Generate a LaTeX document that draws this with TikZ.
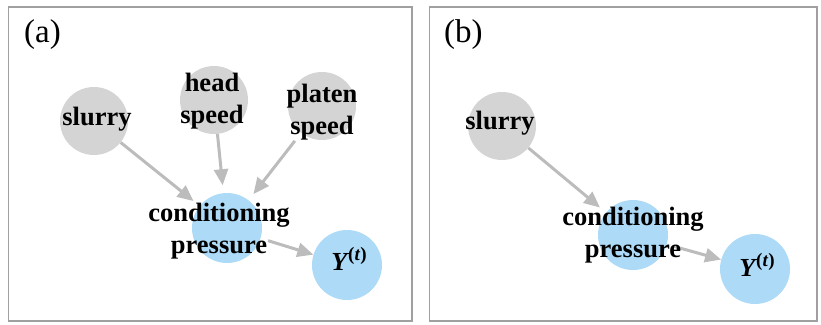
\documentclass[tikz,border=0pt]{standalone}
\usepackage{fontspec}
\setmainfont{Liberation Serif}
\usetikzlibrary{arrows.meta, positioning}

\definecolor{ndgray}{RGB}{212,212,212}
\definecolor{ndblue}{RGB}{172,218,247}
\definecolor{edgray}{RGB}{188,188,188}
\definecolor{frgray}{RGB}{160,160,160}

\newcommand{\ysup}{Y\kern1pt\raisebox{0.4em}{\fontsize{19}{22}\selectfont\upshape(\itshape t\/\upshape)}}

\begin{document}
\begin{tikzpicture}[x=1pt, y=-1pt,
    nd/.style={circle, fill=ndgray, minimum size=68pt, inner sep=0pt},
    ndb/.style={circle, fill=ndblue, minimum size=70pt, inner sep=0pt},
    lbl/.style={font=\fontsize{26.5}{32}\selectfont\bfseries, align=center, inner sep=0pt},
    ylbl/.style={font=\fontsize{26}{30}\selectfont\bfseries\itshape, inner sep=0pt},
    ed/.style={edgray, line width=3pt, -{Triangle[length=16pt, width=14pt]}},
    frm/.style={frgray, line width=1.4pt}]
    \useasboundingbox (0,0) rectangle (821,324);
    % panel frames
    \draw[frm] (8.5,7) rectangle (412,321);
    \draw[frm] (429.5,7) rectangle (817,321);
    \node[font=\fontsize{33}{40}\selectfont, anchor=base west, inner sep=0pt] (ta) at (24,42) {(a)};
    \node[font=\fontsize{33}{40}\selectfont, anchor=base west, inner sep=0pt] (tb) at (444,42) {(b)};
    % (a)
    \node[nd] (sla) at (94,121) {};
    \node[nd] (hda) at (214,100) {};
    \node[nd] (pla) at (322,106) {};
    \node[ndb, outer sep=8pt] (cpa) at (227,228) {};
    \node[ndb] (yta) at (347,265) {};
    % (b)
    \node[nd] (slb) at (502,126) {};
    \node[ndb, outer sep=8pt] (cpb) at (633,235) {};
    \node[ndb] (ytb) at (755,269) {};
    \foreach \i/\j/\s in {sla/cpa/0, hda/cpa/0, pla/cpa/10, cpa/yta/0, slb/cpb/0, cpb/ytb/0} {
        \draw[ed, shorten <=\s pt] (\i)--(\j);
    }
    \node[lbl] at (97,119) {slurry};
    \node[lbl] at (212,101) {head\\speed};
    \node[lbl] at (322,112) {platen\\speed};
    \node[lbl] at (219,231) {conditioning\\pressure};
    \node[ylbl] at (349,259) {\ysup};
    \node[lbl] at (500,123) {slurry};
    \node[lbl] at (633,235) {conditioning\\pressure};
    \node[ylbl] at (757,265) {\ysup};
\end{tikzpicture}
\end{document}
